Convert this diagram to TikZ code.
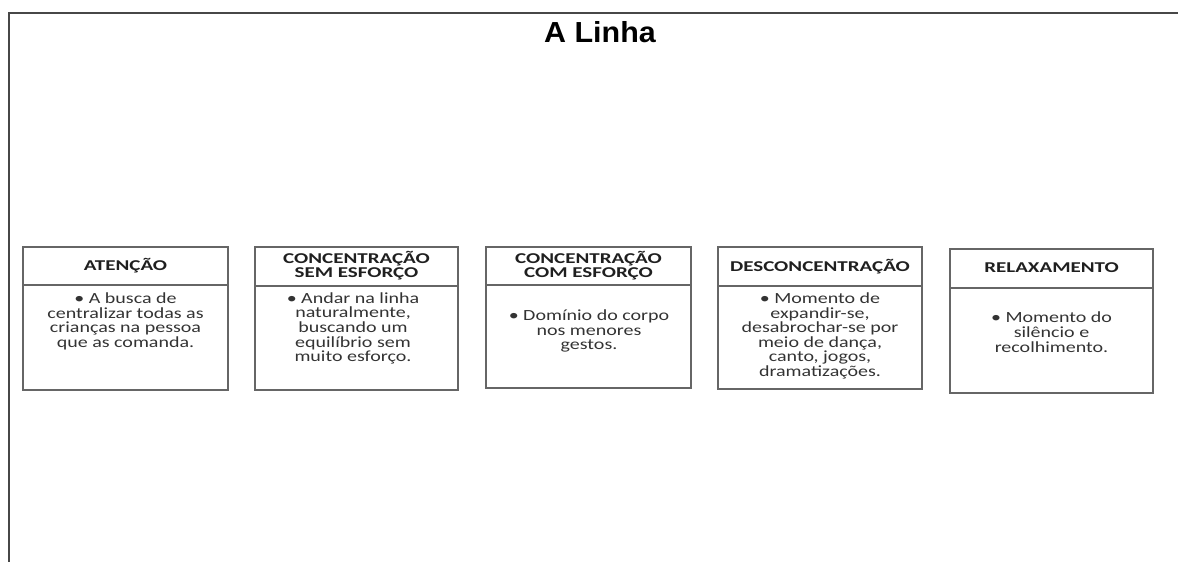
\documentclass[tikz,border=0pt]{standalone}
\usepackage{fontspec}
\setmainfont{Carlito}
\newfontfamily\boxfont[FakeStretch=1.29]{Carlito}
\newfontfamily\headfont[FakeStretch=1.4]{Carlito}
\newfontfamily\titlefont[FakeStretch=1.05]{Liberation Sans}
\newcommand\topstrut[1]{\rule{0pt}{#1}}
\newcommand\botstrut{\rule[-4pt]{0pt}{4pt}}
\newcommand\tightlines{\lineskiplimit -20pt\relax}
\begin{document}
\begin{tikzpicture}[x=1pt,y=-1pt,
  frame/.style={draw=black!72, line width=1.8pt},
  card/.style={draw=black!60, line width=1.1pt},
  head/.style={font=\headfont\bfseries\fontsize{15}{13.8}\selectfont\tightlines, align=center, text=black!88, inner sep=0pt},
  body/.style={font=\boxfont\fontsize{15.5}{14.6}\selectfont\tightlines, align=center, text=black!80, inner sep=0pt},
  ttl/.style={font=\titlefont\bfseries\fontsize{29}{30}\selectfont, text=black, inner sep=0pt}
]
\useasboundingbox (0,0) rectangle (1178,562);
% page frame
\draw[frame] (9,563) -- (9,13) -- (1179,13);
\node[ttl] (title) at (600,32.5) {A Linha};

% box 1
\draw[card] (23,247) rectangle (228,390);
\draw[card] (23,285) -- (228,285);
\node[head] (h1) at (125.5,266.2) {\topstrut{13pt}ATENÇÃO\botstrut};
\node[body] (b1) at (125.5,321.3) {\topstrut{12pt}• A busca de\\centralizar todas as\\crianças na pessoa\\que as comanda.\botstrut};

% box 2
\draw[card] (255,247) rectangle (458,390);
\draw[card] (255,286) -- (458,286);
\node[head] (h2) at (356.5,266.2) {\topstrut{13pt}CONCENTRAÇÃO\\SEM ESFORÇO\botstrut};
\node[body] (b2) at (353,328.5) {\topstrut{12pt}• Andar na linha\\naturalmente,\\buscando um\\equilíbrio sem\\muito esforço.\botstrut};

% box 3
\draw[card] (486,247) rectangle (691,388);
\draw[card] (486,285) -- (691,285);
\node[head] (h3) at (588.5,266.2) {\topstrut{13pt}CONCENTRAÇÃO\\COM ESFORÇO\botstrut};
\node[body] (b3) at (589,331.2) {\topstrut{12pt}• Domínio do corpo\\nos menores\\gestos.\botstrut};

% box 4
\draw[card] (718,247) rectangle (922,389);
\draw[card] (718,286) -- (922,286);
\node[head] (h4) at (820,266.5) {\topstrut{13pt}DESCONCENTRAÇÃO\botstrut};
\node[body] (b4) at (820,335.9) {\topstrut{12pt}• Momento de\\expandir-se,\\desabrochar-se por\\meio de dança,\\canto, jogos,\\dramatizações.\botstrut};

% box 5
\draw[card] (950,249) rectangle (1153,393);
\draw[card] (950,288) -- (1153,288);
\node[head] (h5) at (1051.5,268) {\topstrut{13pt}RELAXAMENTO\botstrut};
\node[body] (b5) at (1051.5,333.5) {\topstrut{12pt}• Momento do\\silêncio e\\recolhimento.\botstrut};
\end{tikzpicture}
\end{document}
